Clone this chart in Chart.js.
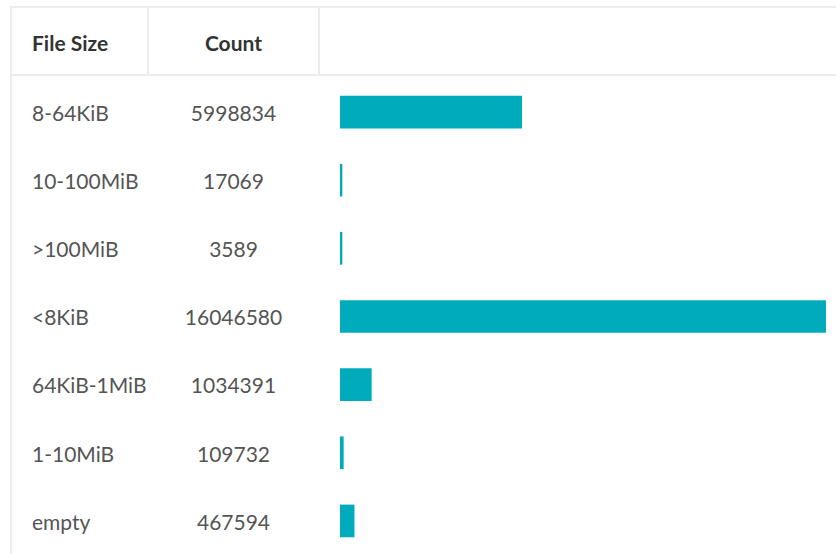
<!DOCTYPE html>
<html>
<head>
<meta charset="utf-8">
<script src="https://cdn.jsdelivr.net/npm/chart.js@4/dist/chart.umd.min.js"></script>
<style>
  html, body { margin: 0; padding: 0; background: #fff; overflow: hidden; }
  body { width: 836px; height: 554px; position: relative; font-family: Lato, "Noto Sans", sans-serif; }
  table {
    position: absolute; left: 10px; top: 6px;
    border-collapse: collapse; width: 840px;
    border-top: 2px solid #ececec; border-left: 2px solid #ececec;
  }
  th {
    height: 64px; padding: 2px 0 0 0; font-size: 21px; font-weight: 700; color: #333;
    border-bottom: 2px solid #ececec; border-right: 2px solid #ececec;
  }
  th.size { text-align: left; padding-left: 20px; }
  td { height: 68.2px; padding: 0; font-size: 21px; color: #555; }
  td.size { padding-left: 20px; }
  td.count { text-align: center; }
  tr.gap td { height: 2px; }
  #bars { position: absolute; left: 340px; top: 78px; width: 486px; height: 477px; }
</style>
</head>
<body>
<table id="tbl">
  <colgroup><col style="width:137px"><col style="width:171px"><col></colgroup>
  <thead><tr><th class="size">File Size</th><th>Count</th><th style="border-right:none"></th></tr></thead>
  <tbody id="rows"><tr class="gap"><td></td><td></td><td></td></tr></tbody>
</table>
<div id="bars"><canvas id="chart-bars"></canvas></div>
<script>
const sizeLabels = ['8-64KiB', '10-100MiB', '>100MiB', '<8KiB', '64KiB-1MiB', '1-10MiB', 'empty'];
const counts = [5998834, 17069, 3589, 16046580, 1034391, 109732, 467594];

const tbody = document.getElementById('rows');
sizeLabels.forEach((label, i) => {
  const tr = document.createElement('tr');
  const a = document.createElement('td');
  a.className = 'size';
  a.textContent = label;
  const b = document.createElement('td');
  b.className = 'count';
  b.textContent = String(counts[i]);
  tr.appendChild(a);
  tr.appendChild(b);
  tr.appendChild(document.createElement('td'));
  tbody.appendChild(tr);
});

new Chart(document.getElementById('chart-bars'), {
  type: 'bar',
  data: {
    labels: sizeLabels,
    datasets: [{
      data: counts,
      backgroundColor: '#00abbc',
      borderWidth: 0,
      barThickness: 32,
      minBarLength: 2,
    }],
  },
  options: {
    indexAxis: 'y',
    responsive: true,
    maintainAspectRatio: false,
    animation: false,
    layout: { padding: 0 },
    scales: {
      x: { display: false, min: 0, max: Math.max(...counts) },
      y: { display: false },
    },
    plugins: {
      legend: { display: false },
      tooltip: { enabled: false },
    },
  },
});
</script>
</body>
</html>
